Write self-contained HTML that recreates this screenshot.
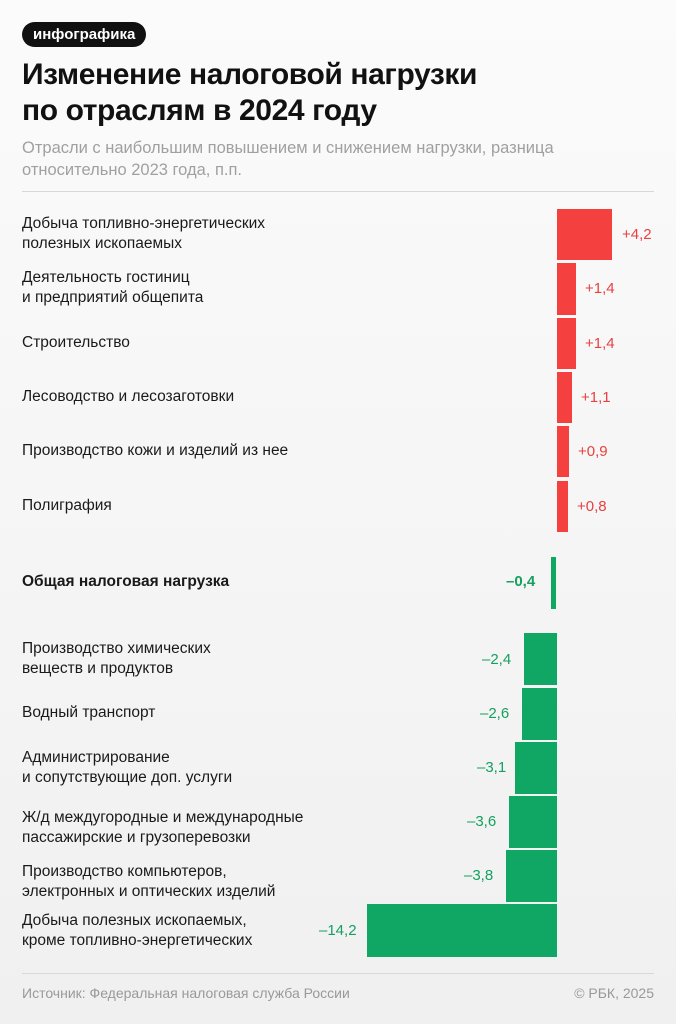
<!DOCTYPE html>
<html><head><meta charset="utf-8"><style>
body{margin:0;width:676px;height:1024px;background:linear-gradient(#fbfbfb,#f0f0f0);font-family:"Liberation Sans","DejaVu Sans",sans-serif;position:relative;overflow:hidden;color:#1a1a1a}
.a{position:absolute}
.tag{left:22px;top:22px;height:25px;padding:0 11px;background:#111;color:#fff;border-radius:13px;font-size:15px;line-height:25px;font-weight:bold}
h1{position:absolute;left:22px;top:57px;margin:0;font-size:30px;line-height:36px;font-weight:bold;letter-spacing:-0.4px;color:#111}
.sub{left:22px;top:137px;font-size:16.5px;line-height:22px;color:#a0a0a0}
.rule{left:22px;top:191px;width:632px;height:1px;background:#d8d8d8}
.lab{left:22px;font-size:15.5px;line-height:20px;color:#1a1a1a}
.r{background:#f4403f}.g{background:#10a765}
.vr{font-size:15px;color:#e94040}.vg{font-size:15px;color:#15a05f}
.foot{top:985px;font-size:14px;color:#999}
</style></head><body>
<div class="a tag">инфографика</div>
<h1>Изменение налоговой нагрузки<br>по отраслям в 2024 году</h1>
<div class="a sub">Отрасли с наибольшим повышением и снижением нагрузки, разница<br>относительно 2023 года, п.п.</div>
<div class="a rule"></div>

<div class="a lab" style="top:214px">Добыча топливно-энергетических<br>полезных ископаемых</div>
<div class="a r" style="left:557px;top:209px;width:55px;height:51px"></div>
<div class="a vr" style="left:622px;top:226px">+4,2</div>

<div class="a lab" style="top:268px">Деятельность гостиниц<br>и предприятий общепита</div>
<div class="a r" style="left:557px;top:263px;width:19px;height:52px"></div>
<div class="a vr" style="left:585px;top:280px">+1,4</div>

<div class="a lab" style="top:333px">Строительство</div>
<div class="a r" style="left:557px;top:318px;width:19px;height:51px"></div>
<div class="a vr" style="left:585px;top:335px">+1,4</div>

<div class="a lab" style="top:387px">Лесоводство и лесозаготовки</div>
<div class="a r" style="left:557px;top:372px;width:15px;height:51px"></div>
<div class="a vr" style="left:581px;top:389px">+1,1</div>

<div class="a lab" style="top:441px">Производство кожи и изделий из нее</div>
<div class="a r" style="left:557px;top:426px;width:12px;height:51px"></div>
<div class="a vr" style="left:578px;top:443px">+0,9</div>

<div class="a lab" style="top:496px">Полиграфия</div>
<div class="a r" style="left:557px;top:481px;width:11px;height:51px"></div>
<div class="a vr" style="left:577px;top:498px">+0,8</div>

<div class="a lab" style="top:572px;font-weight:bold">Общая налоговая нагрузка</div>
<div class="a g" style="left:551px;top:557px;width:5px;height:52px"></div>
<div class="a vg" style="left:506px;top:573px;font-weight:bold">–0,4</div>

<div class="a lab" style="top:639px">Производство химических<br>веществ и продуктов</div>
<div class="a g" style="left:524px;top:633px;width:33px;height:52px"></div>
<div class="a vg" style="left:482px;top:651px">–2,4</div>

<div class="a lab" style="top:703px">Водный транспорт</div>
<div class="a g" style="left:522px;top:688px;width:35px;height:52px"></div>
<div class="a vg" style="left:480px;top:705px">–2,6</div>

<div class="a lab" style="top:748px">Администрирование<br>и сопутствующие доп. услуги</div>
<div class="a g" style="left:515px;top:742px;width:42px;height:52px"></div>
<div class="a vg" style="left:477px;top:759px">–3,1</div>

<div class="a lab" style="top:808px">Ж/д междугородные и международные<br>пассажирские и грузоперевозки</div>
<div class="a g" style="left:509px;top:796px;width:48px;height:52px"></div>
<div class="a vg" style="left:467px;top:813px">–3,6</div>

<div class="a lab" style="top:862px">Производство компьютеров,<br>электронных и оптических изделий</div>
<div class="a g" style="left:506px;top:850px;width:51px;height:52px"></div>
<div class="a vg" style="left:464px;top:867px">–3,8</div>

<div class="a lab" style="top:911px">Добыча полезных ископаемых,<br>кроме топливно-энергетических</div>
<div class="a g" style="left:367px;top:904px;width:190px;height:53px"></div>
<div class="a vg" style="left:319px;top:922px">–14,2</div>

<div class="a rule" style="top:973px"></div>
<div class="a foot" style="left:22px">Источник: Федеральная налоговая служба России</div>
<div class="a foot" style="right:22px">© РБК, 2025</div>
</body></html>
